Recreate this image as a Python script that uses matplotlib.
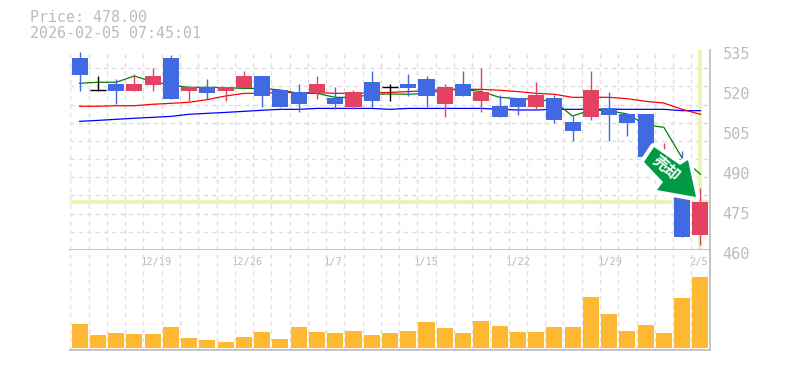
#!/usr/bin/env python3
# -*- coding: utf-8 -*-
import matplotlib
matplotlib.use('agg')
import numpy as np
import matplotlib.pyplot as plt
from matplotlib.patches import Polygon
from matplotlib.transforms import Affine2D, ScaledTranslation

title_price = 'Price: 478.00'
title_time = '2026-02-05 07:45:01'
price_ticks = [535, 520, 505, 490, 475, 460]
date_pos = [4.2, 9.2, 13.9, 19, 24, 29.05, 33.9]
date_labels = ['12/19', '12/26', '1/7', '1/15', '1/22', '1/29', '2/5']
last_price = 478.0

# candles: red = up, blue = down, black = doji
opens = [532, 519.9, 522.25, 519.6, 521.9, 532, 519.6, 521.1, 519.6, 520.75, 525.25, 520,
         519.25, 518.9, 517, 513.6, 523, 521.1, 522.25, 524.1, 514.75, 522.25, 515.9, 514,
         517, 513.6, 517, 508, 509.9, 513.25, 511, 511, 489.25, 494.1, 465.6]
closes = [525.75, 519.9, 519.6, 522.25, 525.25, 516.6, 521.1, 518.9, 521.1, 525.25, 517.75, 513.6,
          514.75, 522.25, 514.75, 519.25, 515.9, 521.1, 520.75, 517.75, 521.1, 517.75, 519.25, 509.9,
          513.6, 518.1, 508.75, 504.6, 520, 510.6, 507.6, 494.9, 494.5, 464.9, 478]
highs = [534.25, 525.25, 524.1, 526, 528.25, 533.1, 521.1, 524.1, 521.1, 527.1, 525.25, 520,
         522.25, 525.25, 521.1, 520, 527.1, 522.25, 526, 525.25, 522.25, 527.1, 528.25, 518.1,
         517, 523, 518.1, 510.25, 527.1, 519.25, 511, 511, 500.1, 497.1, 483.25]
lows = [519.75, 519.75, 514.75, 519.6, 519.75, 516.6, 515.9, 516.6, 515.9, 520.75, 513.6, 513.6,
        511.75, 516.6, 512.9, 512.9, 513.6, 515.9, 517.75, 513.6, 509.9, 517.75, 511.75, 509.9,
        510.6, 512.9, 507.6, 500.9, 508.75, 500.9, 502.75, 494.9, 488.1, 464.9, 461.9]

ma_green = [522.5, 522.9, 522.9, 525.25, 523.1, 521.8, 521, 521, 520.9, 520.6, 520.6, 520,
            518.75, 518.75, 517.25, 517.2, 518.4, 518.5, 518.4, 518.75, 520, 520.25, 519.4, 517.25,
            516.75, 516.5, 515.6, 510.25, 512.5, 512.25, 511, 506.9, 506, 494.5, 488.4]
ma_red = [513.9, 513.9, 514.1, 514.1, 514.65, 515, 515.4, 516.4, 517.75, 518.75, 518.75, 519.1,
          519, 519, 518.75, 518.75, 518.9, 519.1, 519.4, 519.75, 520.25, 520.25, 520.25, 519.9,
          519.4, 518.75, 518.4, 517.25, 517.25, 517.25, 516.75, 515.75, 515.1, 512.75, 510.9]
ma_blue = [508.25, 508.6, 509, 509.4, 509.75, 510.1, 510.9, 511.25, 511.6, 512, 512.4, 512.75,
           512.75, 513.1, 513.1, 513.1, 513.1, 512.75, 513.1, 513.1, 513.1, 513.1, 513.1, 512.75,
           512.5, 512.5, 512.75, 512.75, 512.75, 512.75, 512.75, 512.75, 512.75, 512.25, 512.25]
volume = [24, 13, 15, 14, 14, 21, 10, 8, 6, 11, 16, 9, 21, 16, 15, 17, 13, 15,
          17, 26, 20, 15, 27, 22, 16, 16, 21, 21, 51, 34, 17, 23, 15, 50, 71]

BLUE = '#4169e1'
RED = '#e34262'
GRAY = '#bbbbbb'
GRID = '#dddddd'
HILITE = '#e6f5b0'
W, H = 785, 370

matplotlib.rcParams['font.family'] = ['DejaVu Sans Mono']
fig = plt.figure(figsize=(W / 100., H / 100.), dpi=100)
ax1 = fig.add_axes([70. / W, 1 - 250. / H, 640. / W, 200. / H])
ax2 = fig.add_axes([70. / W, 1 - 350. / H, 640. / W, 100. / H])

n = len(opens)
x = np.arange(n)

for ax in (ax1, ax2):
    ax.set_xlim(-0.525, 34.525)
    ax.set_xticks(x - 0.5, minor=True)
    ax.grid(True, which='minor', axis='x', color=GRID, linestyle=(0, (3, 3)), linewidth=1)
    ax.set_axisbelow(True)
    ax.tick_params(which='minor', length=0)
    for s in ('top', 'left'):
        ax.spines[s].set_visible(False)
    for s in ('right', 'bottom'):
        ax.spines[s].set_color(GRAY)
        ax.spines[s].set_linewidth(1.2)

ax1.set_ylim(460, 535)
ax1.set_yticks(np.linspace(460, 535, 12), minor=True)
ax1.grid(True, which='minor', axis='y', color=GRID, linestyle=(0, (3, 3)), linewidth=1)
ax1.yaxis.tick_right()
ax1.set_yticks(price_ticks)
ax1.set_yticklabels([str(p) for p in price_ticks], fontsize=11, color=GRAY)
ax1.tick_params(axis='y', which='major', length=0, pad=9)
ax1.set_xticks([])
# labels sit 3px under their price
shift = ScaledTranslation(0, -3 / 100., fig.dpi_scale_trans)
for lab in ax1.get_yticklabels():
    lab.set_transform(lab.get_transform() + shift)

# highlight of the latest candle and price
ax1.axhline(last_price, color=HILITE, linewidth=2.7, zorder=1.5)
ax1.axvline(x[-1], ymin=0.01, color=HILITE, linewidth=2.7, zorder=1.5)

ax1.plot(x, ma_blue, color='#0000ff', linewidth=0.9, zorder=2)
ax1.plot(x, ma_red, color='#ff0000', linewidth=0.9, zorder=2)
ax1.plot(x, ma_green, color='#008000', linewidth=0.9, zorder=2)

for i in range(n):
    if closes[i] > opens[i]:
        c = RED
    elif closes[i] < opens[i]:
        c = BLUE
    else:
        c = 'black'
    ax1.vlines(x[i], lows[i], highs[i], color=c, linewidth=1.0, zorder=3)
    if c == 'black':
        ax1.hlines(opens[i], x[i] - 0.44, x[i] + 0.44, color=c, linewidth=1.0, zorder=3)
    else:
        ax1.bar(x[i], abs(closes[i] - opens[i]), bottom=min(opens[i], closes[i]), width=0.88,
                color=c, linewidth=0, zorder=3)

ax2.bar(x, volume, width=0.88, bottom=0, color='#ffb833', linewidth=0, zorder=3)
ax2.set_ylim(-2, 98)
ax2.set_yticks([])
ax2.xaxis.tick_top()
ax2.set_xticks(date_pos)
ax2.set_xticklabels(date_labels, fontsize=7.5, color=GRAY)
ax2.tick_params(axis='x', which='major', length=0, pad=-12)

fig.text(30. / W, 1 - 17. / H, title_price, fontsize=10.8, color=GRAY, va='center')
fig.text(30. / W, 1 - 33. / H, title_time, fontsize=10.8, color=GRAY, va='center')

# signal arrow in pixel coordinates, y down, with a white halo round it
to_fig = Affine2D().scale(1, -1).translate(0, H) + Affine2D().scale(1. / W, 1. / H) + fig.transFigure
arrow = [(654, 147), (680, 165), (688, 160), (696, 197), (657, 190), (663, 182), (644, 162)]
fig.add_artist(Polygon(arrow, closed=True, facecolor='white', edgecolor='white', linewidth=6,
                       joinstyle='round', transform=to_fig, zorder=10))
fig.add_artist(Polygon(arrow, closed=True, facecolor='#009944', edgecolor='none',
                       transform=to_fig, zorder=11))
fig.text(666. / W, 1 - 168. / H, '売却', family=['Noto Sans CJK JP', 'DejaVu Sans'], fontsize=11,
         fontweight='bold', color='white', rotation=-40, rotation_mode='anchor',
         ha='center', va='center', zorder=12)

fig.savefig('out.png', dpi=100)
